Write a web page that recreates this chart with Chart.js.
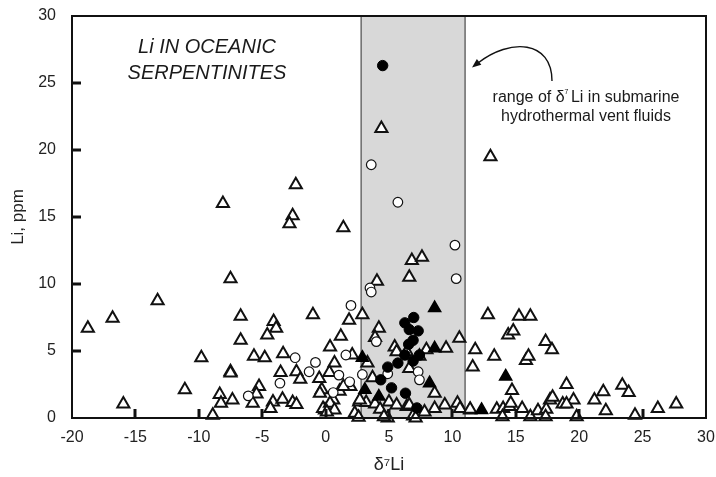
<!DOCTYPE html>
<html><head><meta charset="utf-8">
<script src="https://cdn.jsdelivr.net/npm/chart.js@4.4.0/dist/chart.umd.min.js"></script>
<style>html,body{margin:0;padding:0;background:#fff;}#wrap{width:716px;height:477px;position:relative;}</style>
</head><body><div id="wrap"><canvas id="c" width="716" height="477"></canvas></div>
<script>
// ---- data ----
const xTicks = [-20, -15, -10, -5, 0, 5, 10, 15, 20, 25, 30];
const yTicks = [0, 5, 10, 15, 20, 25, 30];
const ventRange = [2.8, 11.0]; // range of d7Li in submarine hydrothermal vent fluids

const openTriangles = [
 [4.4,21.6],[13.0,19.5],[-2.35,17.4],[-8.1,16.0],[-2.6,15.1],[-2.85,14.5],[1.4,14.2],[6.8,11.75],[7.6,12.0],[6.6,10.5],[-7.5,10.4],[4.05,10.2],
 [-13.25,8.75],[-16.8,7.45],[-18.75,6.7],[-6.7,7.6],[-4.1,7.2],[-3.9,6.7],[-4.6,6.2],[-6.7,5.8],[-1.0,7.7],[1.85,7.3],[2.9,7.7],[1.2,6.1],[4.2,6.7],[3.9,6.0],[0.35,5.3],
 [-9.8,4.5],[-5.65,4.6],[-4.8,4.5],[-3.35,4.8],[2.1,4.7],[0.7,4.1],[3.3,4.1],
 [-7.5,3.45],[-7.5,3.35],[-3.55,3.4],[-2.3,3.45],[-2.0,2.9],[-0.5,2.95],[3.7,3.0],[0.3,3.4],
 [-11.1,2.1],[-5.25,2.35],[-5.45,1.8],[-8.35,1.75],[-8.25,1.1],[-7.35,1.35],[-5.75,1.1],[-4.15,1.2],[-4.35,0.7],[-3.4,1.4],[-2.6,1.15],[-2.3,1.0],
 [-0.3,2.1],[-0.45,1.85],[0.6,1.35],[0.3,0.9],[-0.05,0.6],[-0.2,0.7],[0.35,1.1],[0.7,0.6],[1.1,2.0],[1.95,2.35],[1.4,2.35],[2.3,0.35],[2.65,1.2],
 [3.2,1.15],[3.9,1.05],[4.3,0.65],[-15.95,1.05],[-8.9,0.2],[0.1,0.45],[2.6,0.05],[2.7,1.35],
 [5.45,5.3],[5.6,4.95],[10.55,5.95],[11.8,5.1],[11.6,3.8],[9.5,5.2],[8.6,1.85],[7.95,5.1],[7.4,4.6],[6.6,3.7],[6.4,4.95],[9.4,0.97],[10.4,1.1],
 [10.6,0.7],[11.4,0.6],[8.6,0.7],[7.8,0.45],[6.9,0.15],[6.4,0.85],[5.0,1.2],[5.6,0.97],[6.6,0.97],[4.9,0.0],[7.1,0.0],[4.6,0.1],
 [12.8,7.7],[15.25,7.6],[16.15,7.6],[14.4,6.2],[14.8,6.5],[17.35,5.7],[17.85,5.1],[13.3,4.6],[15.8,4.3],[16.0,4.6],[14.7,2.05],[19.0,2.5],
 [23.4,2.45],[23.9,1.9],[21.9,1.95],[21.2,1.35],[19.55,1.35],[18.7,1.05],[17.7,1.35],[17.9,1.55],[22.1,0.55],[24.4,0.2],[26.2,0.7],[27.65,1.05],[19.8,0.1],
 [13.5,0.65],[14.0,0.7],[13.95,0.1],[14.5,0.85],[15.5,0.7],[16.15,0.1],[16.75,0.55],[17.4,0.65],[17.35,0.1],[14.6,1.1],[11.4,0.65],[19.0,1.05]
];
const openCircles = [
 [3.6,18.9],[5.7,16.1],[10.2,12.9],[10.3,10.4],[3.5,9.7],[3.6,9.4],[2.0,8.4],[4.0,5.7],[1.6,4.7],[-2.4,4.5],[-0.8,4.15],[-1.3,3.45],
 [1.05,3.2],[2.9,3.25],[-3.6,2.6],[1.9,2.7],[-6.1,1.65],[0.6,1.9],[7.3,3.45],[7.4,2.85],[4.9,3.3]
];
const filledTriangles = [
 [8.6,8.2],[8.6,5.2],[8.2,2.6],[14.2,3.1],[12.3,0.6],[2.9,4.5],[3.1,2.1],[4.2,1.6]
];
const filledCircles = [
 [4.5,26.3],[6.95,7.5],[6.25,7.1],[6.6,6.6],[7.3,6.5],[6.9,5.8],[6.55,5.5],[6.25,4.7],[7.4,4.7],[5.7,4.1],[6.9,4.25],
 [4.9,3.8],[4.35,2.85],[5.2,2.25],[6.3,1.85],[7.2,0.75]
];

const FONT = '"Liberation Sans", Arial, Helvetica, sans-serif';
const toXY = arr => arr.map(p => ({x: p[0], y: p[1]}));

const bandPlugin = {
  id: 'band',
  beforeDatasetsDraw(chart) {
    const {ctx, chartArea: a, scales: {x}} = chart;
    const x0 = x.getPixelForValue(ventRange[0]), x1 = x.getPixelForValue(ventRange[1]);
    ctx.save();
    ctx.fillStyle = '#d8d8d8';
    ctx.fillRect(x0, a.top, x1 - x0, a.bottom - a.top);
    ctx.strokeStyle = '#4a4a4a'; ctx.lineWidth = 1.2;
    ctx.beginPath();
    ctx.moveTo(x0, a.top); ctx.lineTo(x0, a.bottom);
    ctx.moveTo(x1, a.top); ctx.lineTo(x1, a.bottom);
    ctx.stroke();
    ctx.restore();
  }
};

const framePlugin = {
  id: 'frame',
  afterDatasetsDraw(chart) {
    const {ctx, chartArea: a, scales: {x, y}} = chart;
    ctx.save();
    ctx.strokeStyle = '#111'; ctx.lineWidth = 3; ctx.lineCap = 'butt';
    xTicks.forEach(v => {
      if (v <= x.min || v >= x.max) return;
      const p = Math.round(x.getPixelForValue(v));
      ctx.beginPath(); ctx.moveTo(p, a.bottom); ctx.lineTo(p, a.bottom - 9); ctx.stroke();
    });
    yTicks.forEach(v => {
      if (v <= y.min || v >= y.max) return;
      const p = Math.round(y.getPixelForValue(v));
      ctx.beginPath(); ctx.moveTo(a.left, p); ctx.lineTo(a.left + 9, p); ctx.stroke();
    });
    ctx.lineWidth = 2;
    ctx.strokeRect(a.left, a.top, a.right - a.left, a.bottom - a.top);
    ctx.restore();
  },
  afterDraw(chart) {
    const {ctx} = chart;
    ctx.save();
    ctx.fillStyle = '#1a1a1a';
    ctx.textAlign = 'center'; ctx.textBaseline = 'alphabetic';
    ctx.font = 'italic 20px ' + FONT;
    ctx.fillText('Li IN OCEANIC', 207, 53);
    ctx.fillText('SERPENTINITES', 207, 79);

    // annotation text
    ctx.font = '16px ' + FONT;
    const cx = 586;
    const partA = 'range of δ', partB = 'Li in submarine', sup = '7';
    const wA = ctx.measureText(partA).width, wB = ctx.measureText(' ' + partB).width;
    ctx.font = '7px ' + FONT;
    const wS = ctx.measureText(sup).width - 2;
    const total = wA + wS + wB;
    let sx = cx - total / 2;
    ctx.textAlign = 'left';
    ctx.font = '16px ' + FONT;
    ctx.fillText(partA, sx, 102);
    ctx.font = '7px ' + FONT;
    ctx.fillText(sup, sx + wA, 94);
    ctx.font = '16px ' + FONT;
    ctx.fillText(' ' + partB, sx + wA + wS, 102);
    ctx.textAlign = 'center';
    ctx.fillText('hydrothermal vent fluids', cx, 121);

    // curved arrow
    ctx.strokeStyle = '#111'; ctx.lineWidth = 1.4;
    ctx.beginPath();
    ctx.moveTo(552, 81);
    ctx.bezierCurveTo(552, 40, 510, 38, 478, 63);
    ctx.stroke();
    const tx = 472, ty = 67.5;
    const ang = Math.atan2(63 - 38, 478 - 510);
    const L = 9, W = 3.6;
    ctx.fillStyle = '#111';
    ctx.beginPath();
    ctx.moveTo(tx, ty);
    ctx.lineTo(tx - L * Math.cos(ang) - W * Math.sin(ang), ty - L * Math.sin(ang) + W * Math.cos(ang));
    ctx.lineTo(tx - L * Math.cos(ang) + W * Math.sin(ang), ty - L * Math.sin(ang) - W * Math.cos(ang));
    ctx.closePath(); ctx.fill();
    ctx.restore();
  }
};

new Chart(document.getElementById('c'), {
  type: 'scatter',
  data: {
    datasets: [
      {label: 'filled circles', data: toXY(filledCircles), pointStyle: 'circle', pointRadius: 5.2,
       backgroundColor: '#000', borderColor: '#000', borderWidth: 1, clip: false},
      {label: 'filled triangles', data: toXY(filledTriangles), pointStyle: 'triangle', pointRadius: 7,
       backgroundColor: '#000', borderColor: '#000', borderWidth: 1.5, clip: false},
      {label: 'open circles', data: toXY(openCircles), pointStyle: 'circle', pointRadius: 4.8,
       backgroundColor: '#fff', borderColor: '#111', borderWidth: 1.2, clip: false},
      {label: 'open triangles', data: toXY(openTriangles), pointStyle: 'triangle', pointRadius: 7,
       backgroundColor: '#fff', borderColor: '#111', borderWidth: 2, clip: false}
    ]
  },
  options: {
    responsive: false, animation: false, devicePixelRatio: 1,
    layout: {autoPadding: false, padding: {top: 16, right: 10, left: 0, bottom: 0}},
    plugins: {legend: {display: false}, tooltip: {enabled: false}},
    scales: {
      x: {
        type: 'linear', min: -20, max: 30,
        afterBuildTicks: s => { s.ticks = xTicks.map(v => ({value: v})); },
        afterFit: s => { s.height = 59; s.paddingLeft = 0; s.paddingRight = 0; },
        grid: {display: false, drawTicks: false}, border: {display: false},
        ticks: {color: '#222', font: {family: FONT, size: 16}, padding: 10, maxRotation: 0},
        title: {display: true, text: 'δ⁷Li', color: '#222', font: {family: FONT, size: 18}, padding: {top: 0, bottom: 1}}
      },
      y: {
        type: 'linear', min: 0, max: 30,
        afterBuildTicks: s => { s.ticks = yTicks.map(v => ({value: v})); },
        afterFit: s => { s.width = 72; s.paddingTop = 0; s.paddingBottom = 0; },
        grid: {display: false, drawTicks: false}, border: {display: false},
        ticks: {color: '#222', font: {family: FONT, size: 16}, padding: 16},
        title: {display: true, text: 'Li, ppm', color: '#222', font: {family: FONT, size: 17}, padding: {top: 8, bottom: 0}}
      }
    }
  },
  plugins: [bandPlugin, framePlugin]
});
</script></body></html>
